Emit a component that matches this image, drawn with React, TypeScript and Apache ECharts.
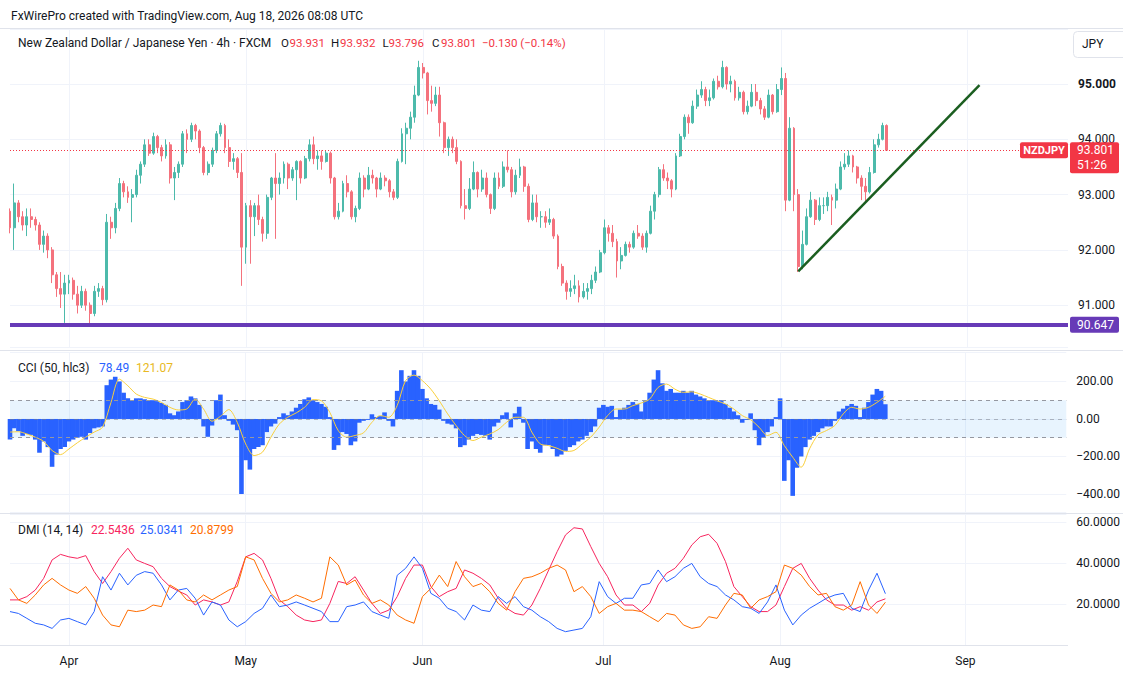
import React, { useEffect, useRef } from "react";
import * as echarts from "echarts";

// ---------- DATA (half-day candles, Mar 23 .. Aug 18 2026) ----------
const opens = [
  92.70, 92.40, 92.85, 92.60, 92.45, 92.60, 92.55, 92.45, 92.10, 92.25,
  92.00, 91.55, 91.30, 91.20, 91.40, 91.45, 91.20, 91.00, 91.25, 91.00,
  90.85, 91.25, 91.30, 91.10, 92.50, 92.40, 92.75, 93.20, 93.05, 92.95,
  93.00, 93.35, 93.55, 93.90, 93.75, 94.05, 93.85, 93.70, 93.90, 93.30,
  93.40, 93.55, 94.10, 94.00, 94.25, 94.15, 93.85, 93.40, 93.55, 93.80,
  94.10, 94.25, 93.85, 93.60, 93.65, 93.40, 92.05, 92.80, 92.60, 92.80,
  92.55, 92.30, 92.95, 93.30, 93.20, 93.30, 93.55, 93.30, 93.45, 93.60,
  93.30, 93.65, 93.90, 93.65, 93.70, 93.60, 93.75, 93.30, 92.60, 92.70,
  93.20, 93.05, 92.60, 92.75, 93.30, 93.10, 93.35, 93.30, 93.10, 93.30,
  93.25, 93.05, 92.95, 93.60, 94.10, 94.20, 94.40, 94.80, 95.30, 95.20,
  94.70, 94.65, 94.80, 94.30, 93.85, 94.00, 93.85, 93.60, 92.80, 92.75,
  93.10, 93.40, 93.10, 93.30, 93.00, 92.75, 93.30, 93.15, 93.50, 93.45,
  93.05, 93.35, 93.50, 93.15, 92.55, 92.85, 92.60, 92.60, 92.50, 92.55,
  92.25, 91.70, 91.40, 91.25, 91.30, 91.35, 91.15, 91.25, 91.30, 91.45,
  91.60, 91.95, 92.40, 92.30, 92.15, 91.80, 91.90, 92.10, 92.05, 92.30,
  92.25, 92.05, 92.30, 92.70, 93.00, 93.45, 93.30, 93.25, 93.10, 93.70,
  94.05, 94.40, 94.30, 94.60, 94.80, 94.90, 94.70, 94.75, 95.05, 94.95,
  95.30, 95.00, 95.05, 94.75, 94.85, 94.50, 94.60, 94.85, 94.70, 94.55,
  94.40, 94.80, 94.50, 94.90, 95.10, 92.90, 94.20, 93.00, 91.70, 92.10,
  92.60, 92.90, 92.55, 92.80, 92.80, 92.95, 92.90, 93.10, 93.50, 93.55,
  93.70, 93.50, 93.30, 93.15, 93.05, 93.40, 93.90, 94.00, 94.25,
];
const closes = [
  92.40, 92.85, 92.60, 92.45, 92.60, 92.55, 92.45, 92.10, 92.25, 92.00,
  91.55, 91.30, 91.20, 91.40, 91.45, 91.20, 91.00, 91.25, 91.00, 90.85,
  91.25, 91.30, 91.10, 92.50, 92.40, 92.75, 93.20, 93.05, 92.95, 93.00,
  93.35, 93.55, 93.90, 93.75, 94.05, 93.85, 93.70, 93.90, 93.30, 93.40,
  93.55, 94.10, 94.00, 94.25, 94.15, 93.85, 93.40, 93.55, 93.80, 94.10,
  94.25, 93.85, 93.60, 93.65, 93.40, 92.05, 92.80, 92.60, 92.80, 92.55,
  92.30, 92.95, 93.30, 93.20, 93.30, 93.55, 93.30, 93.45, 93.60, 93.30,
  93.65, 93.90, 93.65, 93.70, 93.60, 93.75, 93.30, 92.60, 92.70, 93.20,
  93.05, 92.60, 92.75, 93.30, 93.10, 93.35, 93.30, 93.10, 93.30, 93.25,
  93.05, 92.95, 93.60, 94.10, 94.20, 94.40, 94.80, 95.30, 95.20, 94.70,
  94.65, 94.80, 94.30, 93.85, 94.00, 93.85, 93.60, 92.80, 92.75, 93.10,
  93.40, 93.10, 93.30, 93.00, 92.75, 93.30, 93.15, 93.50, 93.45, 93.05,
  93.35, 93.50, 93.15, 92.55, 92.85, 92.60, 92.60, 92.50, 92.55, 92.25,
  91.70, 91.40, 91.25, 91.30, 91.35, 91.15, 91.25, 91.30, 91.45, 91.60,
  91.95, 92.40, 92.30, 92.15, 91.80, 91.90, 92.10, 92.05, 92.30, 92.25,
  92.05, 92.30, 92.70, 93.00, 93.45, 93.30, 93.25, 93.10, 93.70, 94.05,
  94.40, 94.30, 94.60, 94.80, 94.90, 94.70, 94.75, 95.05, 94.95, 95.30,
  95.00, 95.05, 94.75, 94.85, 94.50, 94.60, 94.85, 94.70, 94.55, 94.40,
  94.80, 94.50, 94.90, 95.10, 92.90, 94.20, 93.00, 91.70, 92.10, 92.60,
  92.90, 92.55, 92.80, 92.80, 92.95, 92.90, 93.10, 93.50, 93.55, 93.70,
  93.50, 93.30, 93.15, 93.05, 93.40, 93.90, 94.00, 94.25, 93.801,
];
const highs = [
  92.75, 93.20, 92.90, 92.70, 92.75, 92.75, 92.60, 92.50, 92.35, 92.30,
  92.05, 91.60, 91.60, 91.55, 91.55, 91.50, 91.35, 91.35, 91.30, 91.05,
  91.35, 91.40, 91.35, 92.65, 92.60, 92.85, 93.30, 93.25, 93.15, 93.10,
  93.45, 93.60, 94.00, 94.00, 94.12, 94.08, 93.90, 94.00, 93.95, 93.50,
  93.60, 94.15, 94.18, 94.30, 94.28, 94.18, 93.88, 93.60, 93.85, 94.15,
  94.30, 94.28, 94.00, 93.75, 93.68, 93.75, 92.85, 92.90, 92.85, 93.00,
  92.60, 93.00, 93.32, 93.75, 93.40, 93.60, 93.58, 93.50, 93.62, 93.62,
  93.70, 94.00, 94.05, 93.80, 93.80, 93.80, 93.78, 93.32, 92.85, 93.25,
  93.35, 93.08, 92.80, 93.40, 93.35, 93.50, 93.45, 93.32, 93.40, 93.35,
  93.28, 93.10, 93.65, 94.20, 94.30, 94.50, 94.97, 95.42, 95.38, 95.22,
  94.97, 94.95, 94.95, 94.32, 94.05, 94.05, 94.00, 93.62, 93.10, 93.30,
  93.60, 93.42, 93.45, 93.40, 93.02, 93.40, 93.40, 93.60, 93.80, 93.50,
  93.45, 93.65, 93.52, 93.20, 93.00, 93.00, 92.70, 92.70, 92.75, 92.58,
  92.28, 91.75, 91.45, 91.45, 91.55, 91.45, 91.40, 91.40, 91.55, 91.70,
  92.00, 92.55, 92.45, 92.45, 92.20, 92.05, 92.15, 92.15, 92.35, 92.45,
  92.30, 92.35, 92.80, 93.05, 93.50, 93.55, 93.40, 93.28, 93.75, 94.10,
  94.45, 94.45, 94.70, 94.90, 95.05, 94.95, 94.90, 95.10, 95.15, 95.42,
  95.32, 95.15, 95.08, 94.95, 94.88, 94.70, 95.00, 95.00, 94.75, 94.60,
  94.90, 94.82, 95.00, 95.30, 95.20, 94.40, 94.22, 93.10, 92.35, 92.75,
  93.05, 92.92, 92.95, 92.95, 93.05, 93.00, 93.20, 93.60, 93.75, 93.80,
  93.72, 93.52, 93.35, 93.30, 93.50, 94.00, 94.10, 94.30, 94.27,
];
const lows = [
  92.30, 92.00, 92.50, 92.35, 92.25, 92.40, 92.35, 92.00, 91.95, 91.85,
  91.40, 91.15, 90.95, 90.68, 91.20, 91.10, 90.85, 90.95, 90.90, 90.67,
  90.80, 91.15, 91.00, 91.05, 92.20, 92.30, 92.70, 92.95, 92.85, 92.50,
  92.95, 93.20, 93.50, 93.70, 93.72, 93.75, 93.60, 93.65, 93.20, 92.90,
  93.30, 93.50, 93.75, 93.95, 94.00, 93.75, 93.35, 93.35, 93.50, 93.75,
  94.05, 93.75, 93.50, 93.45, 93.30, 91.35, 91.75, 91.75, 92.25, 92.45,
  92.15, 92.20, 92.90, 92.20, 93.00, 93.20, 93.10, 93.25, 92.90, 93.20,
  93.28, 93.60, 93.55, 93.45, 93.45, 93.58, 93.20, 92.55, 92.55, 92.68,
  92.95, 92.55, 92.50, 92.72, 92.95, 93.08, 93.20, 92.95, 93.08, 93.15,
  92.95, 92.90, 92.92, 93.58, 93.55, 94.00, 94.30, 94.78, 95.10, 94.45,
  94.50, 94.60, 94.05, 93.75, 93.70, 93.75, 93.55, 92.75, 92.55, 92.72,
  93.08, 92.95, 93.05, 92.95, 92.65, 92.72, 93.10, 93.12, 93.40, 92.95,
  93.00, 93.30, 93.05, 92.50, 92.52, 92.50, 92.40, 92.40, 92.45, 92.20,
  91.65, 91.35, 91.10, 91.15, 91.20, 91.05, 91.12, 91.10, 91.20, 91.40,
  91.58, 91.92, 92.15, 92.05, 91.50, 91.65, 91.88, 91.95, 92.02, 92.20,
  92.00, 91.95, 92.28, 92.55, 92.95, 93.25, 93.10, 92.95, 93.08, 93.68,
  94.00, 94.10, 94.28, 94.55, 94.75, 94.60, 94.60, 94.72, 94.90, 94.92,
  94.90, 94.85, 94.70, 94.70, 94.45, 94.45, 94.58, 94.60, 94.45, 94.35,
  94.38, 94.45, 94.48, 94.80, 92.70, 92.88, 92.70, 91.60, 91.65, 92.08,
  92.58, 92.45, 92.52, 92.65, 92.70, 92.45, 92.75, 93.08, 93.45, 93.50,
  93.40, 93.20, 92.90, 92.85, 93.02, 93.38, 93.85, 93.98, 93.796,
];

// CCI(50) histogram, half-day resolution
const cciValues = [
  -110, -50, -65, -90, -80, -85, -110, -180, -120, -150,
  -255, -190, -160, -150, -120, -110, -100, -95, -110, -75,
  -50, -45, -40, 180, 210, 225, 200, 140, 110, 100,
  110, 110, 105, 100, 100, 95, 85, 75, 30, 20,
  40, 90, 100, 120, 110, 75, -40, -95, -35, 100,
  130, 20, -10, -30, -60, -400, -220, -270, -160, -150,
  -140, -70, -40, -25, 10, 30, 20, 40, 60, 80,
  105, 115, 100, 90, 80, 65, 10, -165, -140, -70,
  -80, -140, -120, -20, -10, -5, 25, 10, 15, 35,
  -10, -40, 150, 260, 200, 230, 260, 230, 160, 110,
  80, 75, 50, -10, -25, -30, -50, -150, -140, -110,
  -90, -80, -85, -90, -110, -40, -20, 20, 35, -45,
  30, 65, -20, -160, -120, -160, -180, -140, -140, -160,
  -200, -190, -170, -150, -140, -120, -110, -90, -70, -40,
  60, 75, 65, 70, 10, 50, 60, 75, 90, 80,
  40, 100, 140, 210, 260, 190, 150, 160, 140, 140,
  150, 140, 150, 130, 120, 110, 100, 100, 95, 100,
  80, 60, 40, 20, -20, -5, 30, -60, -140, -100,
  -70, -40, 10, 110, -330, -220, -410, -260, -200, -150,
  -110, -90, -70, -50, -40, -40, -10, 40, 55, 70,
  80, 70, 10, 60, 90, 130, 160, 150, 78.49,
];

// daily resolution indicator lines
const cciSignal = [
  -70, -68, -80, -97, -120, -168, -190, -160, -127, -97,
  -70, -44, 88, 212, 177, 133, 115, 106, 88, 62,
  48, 53, 106, 53, -12, 14, 50, -18, -133, -195,
  -177, -97, -27, 9, 32, 62, 103, 97, 35, -62,
  -97, -88, -74, -18, 18, 9, 71, 204, 234, 204,
  159, 97, 27, -35, -88, -115, -97, -80, -57, -18,
  9, 9, -70, -133, -142, -156, -173, -168, -133, -97,
  -44, 18, 53, 53, 71, 85, 106, 168, 186, 159,
  142, 145, 133, 115, 97, 80, 53, 18, -4, -44,
  -88, -71, -142, -204, -257, -159, -85, -62, -35, 27,
  62, 53, 62, 88, 121.07,
];
const adx = [
  22, 22, 23.6, 26.8, 32.5, 41.5, 44.2, 43, 42.3, 43.6,
  35.8, 30, 35.8, 42.3, 47.2, 41.5, 39.8, 38.2, 32.5, 28.5,
  26.3, 24.4, 19.5, 22, 21, 19.5, 21, 31, 43, 44.7,
  41.5, 32.5, 22, 18.7, 14.6, 12.2, 11.4, 12.2, 20.3, 31,
  30, 33.3, 26.8, 20.3, 15.4, 17, 23.6, 32.5, 39, 39,
  28.5, 23.6, 26, 27.6, 36.6, 35, 32.5, 29.3, 22.8, 17.9,
  15.4, 14.6, 19.5, 27.6, 36.6, 45.5, 53.7, 57.2, 56.6, 48,
  39.8, 33.3, 24.4, 19.5, 19.5, 16.3, 20.3, 29.3, 35, 37.4,
  42.3, 48.8, 52.8, 54, 49.6, 40.7, 28.5, 23.6, 18.7, 16.3,
  16.3, 19.5, 28.5, 37.4, 39.8, 32.5, 26.8, 22, 19.5, 19.5,
  17, 18.7, 17, 21, 22.5436,
];
const plusDI = [
  16.3, 15.4, 13, 10.6, 9.8, 8.1, 12.2, 13, 11.4, 9.8,
  16.3, 33.3, 26.8, 35, 29.3, 34, 35.8, 35, 29.3, 22,
  26.8, 27.6, 22.8, 14.6, 21, 19.5, 12.2, 8.9, 11.4, 15.4,
  17.9, 24.4, 18.7, 19.5, 21, 19.5, 17.9, 16.3, 11.4, 11.4,
  18.7, 19.5, 21, 16.3, 14.6, 13, 34, 37.4, 43, 37.4,
  25.2, 22.8, 17.9, 16.3, 12.2, 19.5, 17, 16.3, 23.6, 20.3,
  23.6, 18.7, 17, 13.8, 11.4, 8.1, 6.5, 7.3, 8.1, 13.8,
  30.9, 23.6, 20.3, 22.8, 22.8, 29.3, 30, 36.6, 30.9, 33.3,
  37.4, 39.8, 33.3, 30, 28.5, 24.4, 22, 18.7, 17.9, 15.4,
  21, 29.3, 17, 9.8, 14.6, 17.9, 20.3, 22.8, 24.4, 25.2,
  17.9, 16.3, 26.8, 35, 25.0341,
];
const minusDI = [
  27.6, 22, 20.3, 24.4, 29.3, 32.5, 29.3, 26.8, 25.2, 28.5,
  22.8, 14.6, 9.8, 8.9, 17, 16.3, 17, 19.5, 18.7, 29.3,
  26.8, 22, 21, 24.4, 22, 24.4, 26.8, 28.5, 43, 41.5,
  32.5, 25.2, 21, 22, 24.4, 22.8, 21, 22.8, 43, 39,
  29.3, 31.7, 24.4, 20.3, 22, 19.5, 14.6, 12.2, 10.6, 23.6,
  27.6, 34.1, 28.5, 40.7, 33.3, 28.5, 30, 26, 20.3, 17,
  26, 32.5, 33.3, 35, 37.4, 39, 36.6, 26, 28.5, 23.6,
  15.4, 18.7, 20.3, 17, 17, 16.3, 13.8, 11.4, 15.4, 14.6,
  9.8, 8.1, 8.9, 13.8, 13, 19.5, 25.2, 24.4, 17.9, 22,
  23.6, 26, 39, 37.4, 34.1, 28.5, 24.4, 25.2, 18.7, 17,
  19.5, 30.9, 19.5, 15.4, 20.8799,
];

const TOTAL_SLOTS = 252; // half-day slots incl. empty right margin
const monthLabels = ["Apr", "May", "Jun", "Jul", "Aug", "Sep"];
const monthSlots = [14, 56, 98, 141, 183, 227];
const lastClose = 93.801;
const supportLevel = 90.647;
const trendStart = [187, 91.61];
const trendEnd = [230, 94.98];
const headerText = "FxWirePro created with TradingView.com, Aug 18, 2026 08:08 UTC";
const symbolTitle = "New Zealand Dollar / Japanese Yen · 4h · FXCM";
const ohlcLegend = [["O", "93.931"], ["H", "93.932"], ["L", "93.796"], ["C", "93.801"]];
const changeText = "\u22120.130 (\u22120.14%)";
const cciLegend = ["CCI (50, hlc3)", "78.49", "121.07"];
const dmiLegend = ["DMI (14, 14)", "22.5436", "25.0341", "20.8799"];
const countdown = "51:26";

const FONT = "Roboto, 'Noto Sans', Arial, sans-serif";
const TXT = "#131722";
const UP = "#4DBAAB";
const DOWN = "#F4727D";
const GRIDC = "#F0F3FA";
const SEP = "#E0E3EB";

function toSlots(daily: number[]): (number | null)[] {
  const out: (number | null)[] = [];
  daily.forEach((v, j) => {
    if (j > 0) out.push(null);
    out.push(v);
  });
  return out;
}

export default function App() {
  const ref = useRef<HTMLDivElement>(null);
  useEffect(() => {
    document.body.style.margin = "0";
    const chart = echarts.init(ref.current!, undefined, { renderer: "svg", width: 1123, height: 673 });
    const slots = Array.from({ length: TOTAL_SLOTS }, (_, i) => String(i));
    const candles = opens.map((o, i) => [o, closes[i], lows[i], highs[i]]);
    const isMonth = (i: number) => monthSlots.indexOf(i) >= 0;

    const xAxisFor = (gridIndex: number, labels: boolean) => ({
      type: "category",
      gridIndex,
      data: slots,
      boundaryGap: false,
      axisLine: { show: false },
      axisTick: { show: false },
      axisPointer: { show: false },
      axisLabel: labels
        ? {
            show: true,
            interval: (i: number) => isMonth(i),
            formatter: (v: string) => {
              const k = monthSlots.indexOf(Number(v));
              return k >= 0 ? monthLabels[k] : "";
            },
            color: TXT,
            fontSize: 12,
            fontFamily: FONT,
            margin: 10,
          }
        : { show: false },
      splitLine: { show: true, interval: (i: number) => isMonth(i), lineStyle: { color: GRIDC, width: 1 } },
    });

    const yBase = {
      type: "value",
      position: "right",
      axisLine: { show: false },
      axisTick: { show: false },
      splitLine: { show: true, lineStyle: { color: GRIDC, width: 1 } },
    };

    const option: any = {
      animation: false,
      backgroundColor: "#ffffff",
      grid: [
        { left: 10, right: 55, top: 29, height: 318 },
        { left: 10, right: 55, top: 352, height: 160 },
        { left: 10, right: 55, top: 514, height: 131 },
      ],
      xAxis: [xAxisFor(0, false), xAxisFor(1, false), xAxisFor(2, true)],
      yAxis: [
        {
          ...yBase,
          gridIndex: 0,
          min: 90.244,
          max: 95.995,
          splitNumber: 5,
          axisLabel: {
            color: TXT,
            fontSize: 12,
            fontFamily: FONT,
            margin: 10,
            showMinLabel: false,
            showMaxLabel: false,
            formatter: (v: number) => {
              if (Math.abs(v - Math.round(v)) > 1e-6) return "";
              return Math.round(v) === 95 ? "{b|95.000}" : v.toFixed(3);
            },
            rich: { b: { fontWeight: "bold", color: TXT, fontSize: 12, fontFamily: FONT } },
          },
        },
        {
          ...yBase,
          gridIndex: 1,
          min: -496,
          max: 357,
          splitNumber: 4,
          axisLabel: {
            color: TXT,
            fontSize: 12,
            fontFamily: FONT,
            margin: 10,
            showMinLabel: false,
            showMaxLabel: false,
            formatter: (v: number) => {
              if (Math.abs(v % 200) > 1e-6) return "";
              return (v < 0 ? "\u2212" : "") + Math.abs(v).toFixed(2);
            },
          },
        },
        {
          ...yBase,
          gridIndex: 2,
          min: 0,
          max: 63.9,
          interval: 20,
          axisLabel: {
            color: TXT,
            fontSize: 12,
            fontFamily: FONT,
            margin: 10,
            showMinLabel: false,
            showMaxLabel: false,
            formatter: (v: number) => (Math.abs(v % 20) > 1e-6 ? "" : v.toFixed(4)),
          },
        },
      ],
      series: [
        {
          type: "candlestick",
          xAxisIndex: 0,
          yAxisIndex: 0,
          data: candles,
          barWidth: 2.4,
          itemStyle: { color: UP, color0: DOWN, borderColor: UP, borderColor0: DOWN, borderWidth: 1 },
          markLine: {
            silent: true,
            symbol: "none",
            label: { show: false },
            data: [
              { yAxis: lastClose, lineStyle: { color: "#F23645", type: [1, 2], width: 1 } },
              { yAxis: supportLevel, lineStyle: { color: "#673AB7", type: "solid", width: 4 } },
              [
                { coord: trendStart, lineStyle: { color: "#1B5E20", type: "solid", width: 2.5 } },
                { coord: trendEnd, lineStyle: { color: "#1B5E20", type: "solid", width: 2.5 } },
              ],
            ],
          },
        },
        {
          type: "line",
          xAxisIndex: 1,
          yAxisIndex: 1,
          data: [],
          silent: true,
          z: 1,
          markArea: {
            silent: true,
            itemStyle: { color: "rgba(33,150,243,0.1)" },
            data: [[{ yAxis: 100 }, { yAxis: -100 }]],
          },
          markLine: {
            silent: true,
            symbol: "none",
            label: { show: false },
            lineStyle: { color: "#9598A1", type: [4, 4], width: 1 },
            data: [
              { yAxis: 100 },
              { yAxis: 0, lineStyle: { color: "rgba(120,123,134,0.5)", type: [4, 4], width: 1 } },
              { yAxis: -100 },
            ],
          },
        },
        {
          type: "bar",
          xAxisIndex: 1,
          yAxisIndex: 1,
          data: cciValues,
          barWidth: 4.6,
          z: 2,
          itemStyle: { color: "#2962FF" },
        },
        {
          type: "line",
          xAxisIndex: 1,
          yAxisIndex: 1,
          data: toSlots(cciSignal),
          connectNulls: true,
          showSymbol: false,
          smooth: 0.3,
          z: 3,
          lineStyle: { color: "#F9CF3C", width: 1 },
        },
        {
          type: "line",
          xAxisIndex: 2,
          yAxisIndex: 2,
          data: toSlots(adx),
          connectNulls: true,
          showSymbol: false,
          lineStyle: { color: "#F7255E", width: 1 },
        },
        {
          type: "line",
          xAxisIndex: 2,
          yAxisIndex: 2,
          data: toSlots(plusDI),
          connectNulls: true,
          showSymbol: false,
          lineStyle: { color: "#2962FF", width: 1 },
        },
        {
          type: "line",
          xAxisIndex: 2,
          yAxisIndex: 2,
          data: toSlots(minusDI),
          connectNulls: true,
          showSymbol: false,
          lineStyle: { color: "#FF6D00", width: 1 },
        },
      ],
    };
    chart.setOption(option);

    const yLast = chart.convertToPixel({ yAxisIndex: 0 }, lastClose) as number;
    const ySup = chart.convertToPixel({ yAxisIndex: 0 }, supportLevel) as number;

    const txt = (x: number, y: number, text: string, fill: string, size = 12, weight = "normal", align = "left") => ({
      type: "text",
      x,
      y,
      z: 100,
      style: { text, fill, fontSize: size, fontFamily: FONT, fontWeight: weight, align, verticalAlign: "middle" },
    });
    const hline = (y: number, x1: number, x2: number) => ({
      type: "line",
      z: 90,
      shape: { x1, y1: y, x2, y2: y },
      style: { stroke: SEP, lineWidth: 1 },
    });

    const ohlcX = [[281, 289.5], [331, 340], [382.5, 388.5], [432, 441]];
    const graphic: any[] = [
      txt(11, 16, headerText, TXT, 12),
      hline(28.5, 0, 1123),
      txt(18, 43, symbolTitle, TXT, 12),
      ...ohlcLegend.flatMap((p, k) => [
        txt(ohlcX[k][0], 43, p[0], TXT, 11.5),
        txt(ohlcX[k][1], 43, p[1], "#F23645", 11.5),
      ]),
      txt(482, 43, changeText, "#F23645", 11.5),
      hline(350.5, 0, 1123),
      hline(513.5, 0, 1123),
      hline(645.5, 0, 1068),
      txt(18, 368, cciLegend[0], TXT, 12),
      txt(99, 368, cciLegend[1], "#2962FF", 12),
      txt(136, 368, cciLegend[2], "#E8B923", 12),
      txt(18, 530, dmiLegend[0], TXT, 12),
      txt(91, 530, dmiLegend[1], "#F7255E", 12),
      txt(140, 530, dmiLegend[2], "#2962FF", 12),
      txt(190, 530, dmiLegend[3], "#FF6D00", 12),
      {
        type: "rect",
        z: 95,
        shape: { x: 1073.5, y: 31.5, width: 54, height: 26, r: 4 },
        style: { fill: "#ffffff", stroke: SEP, lineWidth: 1 },
      },
      txt(1082, 44, "JPY", TXT, 12),
      {
        type: "rect",
        z: 95,
        shape: { x: 1020, y: yLast - 8, width: 48, height: 16, r: 2 },
        style: { fill: "#F23645" },
      },
      txt(1044, yLast, "NZDJPY", "#ffffff", 11, "bold", "center"),
      {
        type: "rect",
        z: 95,
        shape: { x: 1070, y: yLast - 8, width: 49, height: 31, r: 2 },
        style: { fill: "#F23645" },
      },
      txt(1077, yLast, lastClose.toFixed(3), "#ffffff", 12),
      txt(1077, yLast + 15, countdown, "#ffffff", 12),
      {
        type: "rect",
        z: 95,
        shape: { x: 1070, y: ySup - 8, width: 49, height: 16, r: 2 },
        style: { fill: "#673AB7" },
      },
      txt(1077, ySup, supportLevel.toFixed(3), "#ffffff", 12),
    ];
    chart.setOption({ graphic });

    return () => chart.dispose();
  }, []);
  return <div ref={ref} style={{ width: 1123, height: 673, overflow: "hidden" }} />;
}
